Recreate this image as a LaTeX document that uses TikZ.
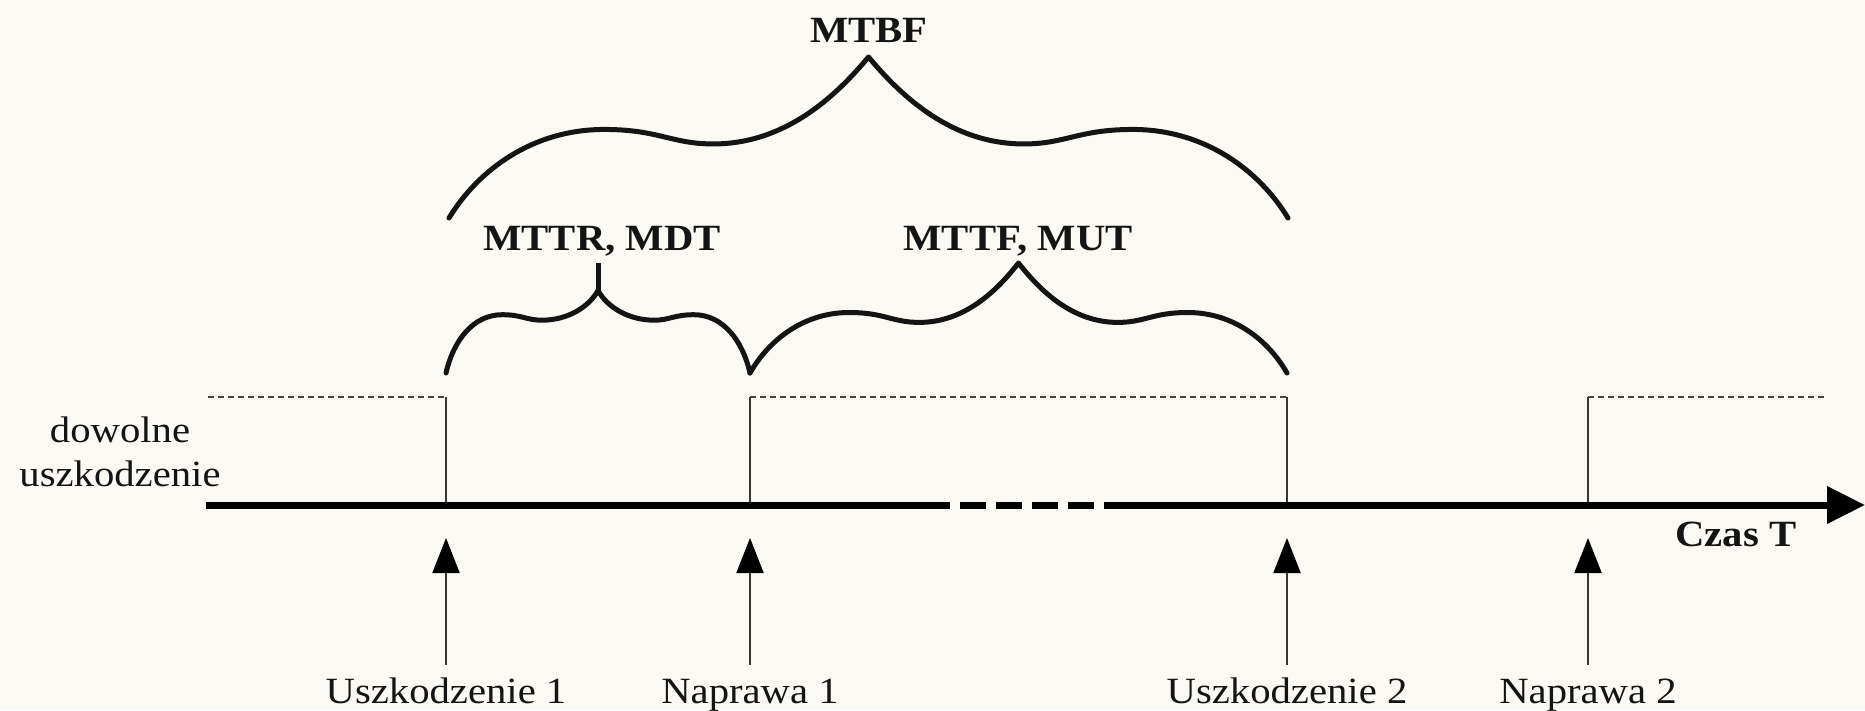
\documentclass[tikz,border=0pt]{standalone}
\usepackage{fontspec}
\setmainfont[FakeStretch=1.1]{Liberation Serif}
\usetikzlibrary{arrows.meta}
\definecolor{bg}{RGB}{251,249,243}
\definecolor{ink}{RGB}{20,20,20}
\newcommand\mybrace[4]{%
  \begin{scope}[shift={(#1,#2)}, xscale=#3, yscale=-#4]
    \draw[bracepen] (-1,0) .. controls (-0.93,0.3) and (-0.8,0.55) .. (-0.63,0.55)
      .. controls (-0.5,0.55) and (-0.47,0.46) .. (-0.37,0.46)
      .. controls (-0.2,0.46) and (-0.08,0.75) .. (0,1)
      .. controls (0.08,0.75) and (0.2,0.46) .. (0.37,0.46)
      .. controls (0.47,0.46) and (0.5,0.55) .. (0.63,0.55)
      .. controls (0.8,0.55) and (0.93,0.3) .. (1,0);
  \end{scope}}
\newcommand\mybracestem[4]{%
  \begin{scope}[shift={(#1,#2)}, xscale=#3, yscale=-#4]
    \draw[bracepen] (-1,0) .. controls (-0.95,0.3) and (-0.82,0.53) .. (-0.63,0.53)
      .. controls (-0.5,0.53) and (-0.47,0.48) .. (-0.37,0.48)
      .. controls (-0.2,0.48) and (-0.06,0.6) .. (0,0.75)
      .. controls (0.06,0.6) and (0.2,0.48) .. (0.37,0.48)
      .. controls (0.47,0.48) and (0.5,0.53) .. (0.63,0.53)
      .. controls (0.82,0.53) and (0.95,0.3) .. (1,0);
    \draw[bracepen, line cap=butt] (0,0.72) -- (0,1);
  \end{scope}}
\begin{document}
\begin{tikzpicture}[x=1pt,y=-1pt,
  lbl/.style={font=\fontsize{37}{40}\selectfont, text=ink, inner sep=0pt},
  blbl/.style={font=\bfseries\fontsize{37}{40}\selectfont, text=ink, inner sep=0pt},
  bracepen/.style={line width=5pt, line cap=round, line join=round, draw=ink},
  thinline/.style={line width=2pt, draw=ink!85},
  level/.style={line width=1.5pt, dash pattern=on 6pt off 4pt, draw=ink!80},
  axisline/.style={line width=7pt, draw=black},
  evarrow/.style={line width=2pt, draw=ink!85, -{Triangle[length=35pt,width=27pt,color=black,fill=black]}},
]
\fill[bg] (0,0) rectangle (1865,710);
\useasboundingbox (0,0) rectangle (1865,710);

% event points on the axis and on the level line
\coordinate (f1) at (446,505);  \coordinate (f1t) at (446,397);
\coordinate (r1) at (750,505);  \coordinate (r1t) at (750,397);
\coordinate (f2) at (1287,505); \coordinate (f2t) at (1287,397);
\coordinate (r2) at (1588,505); \coordinate (r2t) at (1588,397);
\coordinate (L0) at (208,397);  \coordinate (L1) at (1826,397);

% level (up state) lines
\draw[level] (L0) -- (f1t);
\draw[level] (r1t) -- (f2t);
\draw[level] (r2t) -- (L1);
\draw[thinline] (f1t) -- (f1);
\draw[thinline] (r1t) -- (r1);
\draw[thinline] (f2t) -- (f2);
\draw[thinline] (r2t) -- (r2);

% time axis
\coordinate (A0) at (206,505);
\coordinate (G0) at (950,505);
\coordinate (G1) at (1104,505);
\coordinate (A1) at (1865,505);
\draw[axisline] (A0) -- (G0);
\draw[axisline, dash pattern=on 26pt off 10pt, dash phase=26pt] (G0) -- (G1);
\draw[axisline, -{Triangle[length=38pt,width=36pt]}] (G1) -- (A1);
\node[blbl, anchor=base] (czas) at (1736,546) {Czas T};

% left label
\node[lbl, anchor=base] (dow) at (120,442) {dowolne};
\node[lbl, anchor=base] (usz) at (120,486) {uszkodzenie};

% event arrows and labels
\node[lbl, anchor=base] (u1) at (446,703) {Uszkodzenie 1};
\node[lbl, anchor=base] (n1) at (750,703) {Naprawa 1};
\node[lbl, anchor=base] (u2) at (1287,703) {Uszkodzenie 2};
\node[lbl, anchor=base] (n2) at (1588,703) {Naprawa 2};
\coordinate (a1b) at (446,665); \coordinate (a1t) at (446,538);
\coordinate (a2b) at (750,665); \coordinate (a2t) at (750,538);
\coordinate (a3b) at (1287,665); \coordinate (a3t) at (1287,538);
\coordinate (a4b) at (1588,665); \coordinate (a4t) at (1588,538);
\draw[evarrow] (a1b) -- (a1t);
\draw[evarrow] (a2b) -- (a2t);
\draw[evarrow] (a3b) -- (a3t);
\draw[evarrow] (a4b) -- (a4t);

% braces
\mybracestem{598}{373}{152}{110}
\mybrace{1018.5}{373}{268.5}{110}
\mybrace{868.5}{218}{419.5}{161}

\node[blbl, anchor=base] (mttr) at (602,250) {MTTR, MDT};
\node[blbl, anchor=base] (mttf) at (1018,250) {MTTF, MUT};
\node[blbl, anchor=base] (mtbf) at (869,42) {MTBF};
\end{tikzpicture}
\end{document}
